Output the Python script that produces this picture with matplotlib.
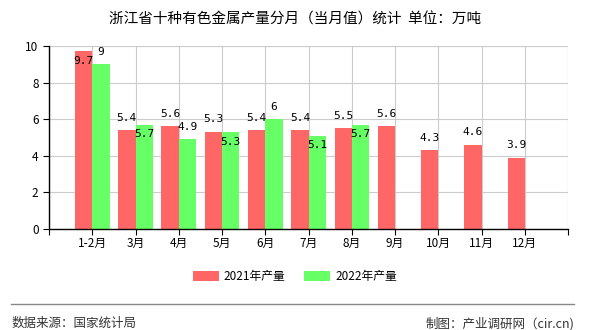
import matplotlib
matplotlib.use("Agg")
import matplotlib.pyplot as plt
import numpy as np

plt.rcParams["font.family"] = ["Noto Sans CJK SC", "DejaVu Sans"]

months = ["1-2月", "3月", "4月", "5月", "6月", "7月", "8月", "9月", "10月", "11月", "12月"]
output_2021 = [9.7, 5.4, 5.6, 5.3, 5.4, 5.4, 5.5, 5.6, 4.3, 4.6, 3.9]
output_2022 = [9, 5.7, 4.9, 5.3, 6, 5.1, 5.7]

color_2021 = "#ff6666"
color_2022 = "#66ff66"
bar_w = 0.4

# label above (+) or tucked under the bar top (-), in points
offset_2021 = [-7, 9, 9, 9, 9, 9, 9, 9, 9, 9, 9]
offset_2022 = [9, -7, 9, -7, 9, -7, -7]

fig = plt.figure(figsize=(5.9, 3.3), dpi=100)
ax = fig.add_axes([0.083, 0.306, 0.88, 0.555])

pos = np.arange(1, len(months) + 1)
ax.bar(pos[:len(output_2021)] - bar_w / 2, output_2021, bar_w,
       color=color_2021, zorder=2, label="2021年产量")
ax.bar(pos[:len(output_2022)] + bar_w / 2, output_2022, bar_w,
       color=color_2022, zorder=2, label="2022年产量")

for x, v, off in zip(pos, output_2021, offset_2021):
    ax.annotate(f"{v:g}", (x - bar_w / 2, v), xytext=(0, off),
                textcoords="offset points", ha="center", va="center",
                fontsize=8, family="DejaVu Sans Mono", zorder=3)
for x, v, off in zip(pos, output_2022, offset_2022):
    ax.annotate(f"{v:g}", (x + bar_w / 2, v), xytext=(0, off),
                textcoords="offset points", ha="center", va="center",
                fontsize=8, family="DejaVu Sans Mono", zorder=3)

ax.set_xlim(0, 12)
ax.set_ylim(0, 10)
ax.set_xticks(np.arange(0, 13))
ax.set_xticklabels([""] + months + [""], fontsize=8.5)
ax.set_yticks(np.arange(0, 11, 2))
ax.tick_params(axis="y", labelsize=8.5, length=4, direction="out")
ax.tick_params(axis="x", length=4, direction="out", pad=2)
ax.grid(True, color="#cccccc", linewidth=0.8, zorder=0)
ax.spines["top"].set_visible(False)
ax.spines["right"].set_visible(False)
ax.spines["left"].set_linewidth(1)
ax.spines["bottom"].set_linewidth(1)
# grey frame on top and right drawn as grid lines
ax.axhline(10, color="#cccccc", linewidth=0.8, zorder=0)
ax.axvline(12, color="#cccccc", linewidth=0.8, zorder=0)

fig.text(0.5, 0.942, "浙江省十种有色金属产量分月（当月值）统计  单位：万吨",
         ha="center", va="center", fontsize=10.5)

ax.legend(loc="center", bbox_to_anchor=(0.5, 0.163), bbox_transform=fig.transFigure,
          ncol=2, frameon=False, fontsize=8.5, handlelength=2.2, handleheight=0.9,
          columnspacing=1.6, handletextpad=0.4)

fig.add_artist(plt.Line2D([0.018, 0.973], [0.08, 0.08], color="#888888", linewidth=1))
fig.text(0.02, 0.02, "数据来源：国家统计局", ha="left", va="center",
         fontsize=9, color="#333333")
fig.text(0.973, 0.02, "制图：产业调研网（cir.cn)", ha="right", va="center",
         fontsize=9, color="#333333")

fig.savefig("out.png", dpi=100)
